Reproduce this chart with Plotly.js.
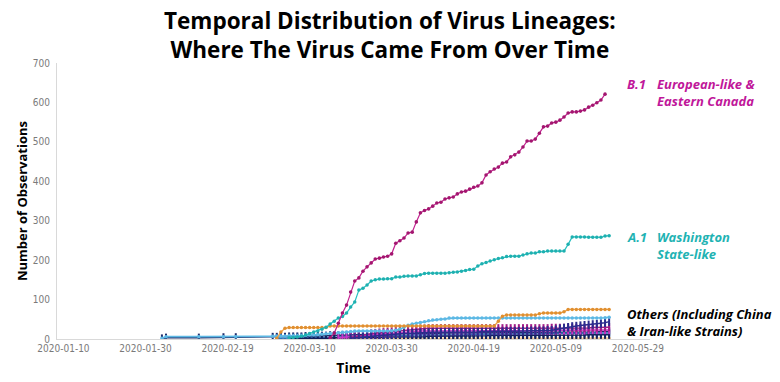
<!DOCTYPE html>
<html>
<head>
<meta charset="utf-8">
<script src="https://cdn.plot.ly/plotly-3.0.1.min.js"></script>
<style>html,body{margin:0;padding:0;background:#fff;}#chart{width:780px;height:382px;}</style>
</head>
<body>
<div id="chart"></div>
<script>
// ---------- DATA ----------
// Each daily series: first date + one value per day
const b1Start = '2020-03-15';
const b1Values = [3,15,40,66,86,119,147,155,172,183,193,203,205,208,210,216,243,249,256,269,271,297,320,326,330,337,345,347,355,358,360,368,373,375,380,385,388,396,416,424,431,436,446,449,462,467,474,487,502,502,507,522,538,540,548,550,555,563,573,576,576,578,581,588,593,599,606,621];

const a1Start = '2020-03-05';
const a1Values = [3,4,5,7,10,14,18,20,25,30,38,45,53,57,66,81,94,124,129,137,147,150,152,152,153,153,157,
  157,159,160,160,160,163,166,167,167,167,167,167,168,169,170,172,174,176,177,185,191,194,198,201,204,206,209,210,210,210,
  213,216,218,218,221,221,223,223,223,223,223,240,259,259,259,259,258,258,258,258,261,262];

const orangeStart = '2020-03-02';
const orangeValues = [2,18,27, 29,29,29,29,29,29,29,29,29,29,
  33,33,33,33,33,33,33,33,33,33,33,33,33,33,33,33,33,33,33,33,33,33,33,33,33,33,33,33,33,33,33,33,33,33,33,33,33,33,33,33,33,
  45,58,61,61,61,61,61,61,61,61,64,66,66,66,66,66,69,75,75,75,75,75,75,75,75,75,75,75];

const lightBlueEarlyDates = ['2020-02-03','2020-02-04','2020-02-12','2020-02-18','2020-02-21','2020-03-01'];
const lightBlueEarlyValues = [2,6,6,6,6,7];
const lightBlueStart = '2020-03-02';
const lightBlueValues = [7,7,7,8,8,8,9,9,10,10,11,12,13,14,15,16,17,18,19,20,20,20,20,20,20,20,20,20,21,22,
  25,30,35,38,40,42,44,46,48,49,50,51,53,53,53,53,53,53,53,53,53,53,53,53,53,53,53,53,53,53,
  53,53,53,53,53,53,53,53,53,53,53,53,53,53,53,53,53,53,53,53,54,55];

const navyEarlyDates = ['2020-02-03','2020-02-04','2020-02-12','2020-02-18','2020-02-21','2020-03-01'];
const navyEarlyValues = [1,3,3,4,4,5];
const navyStart = '2020-03-02';
const navyValues = [5,5,5,6,6,6,6,7,7,7,8,8,8,9,9,9,10,10,10,11,11,11,11,12,12,12,12,13,13,13,
  13,13,13,14,14,14,14,14,14,14,15,15,15,15,15,15,15,15,15,15,15,16,16,16,16,16,16,16,16,16,
  16,16,16,17,17,17,17,17,17,17,17,18,18,18,18,18,18,18,18,19,19,19];

const blueStart = '2020-03-02';
const blueValues = [2,2,2,3,3,3,3,3,4,4,4,4,5,5,5,5,6,6,6,7,7,7,7,8,8,8,8,9,9,9,
  9,9,9,10,10,10,10,10,10,10,11,11,11,11,11,11,11,12,12,12,12,12,12,12,12,12,13,13,13,13,
  13,13,13,13,13,14,14,14,14,14,14,14,14,14,14,15,15,15,15,15,15,15];

const darkNavyStart = '2020-03-05';
const darkNavyValues = [1,1,1,1,1,2,2,2,2,2,2,3,3,3,3,3,3,4,4,4,4,4,4,5,5,5,5,
  5,5,6,6,6,6,6,7,7,7,7,7,7,7,8,8,8,8,8,8,8,8,9,9,9,9,9,9,9,9,
  9,9,9,9,9,10,10,10,10,10,10,10,10,10,10,10,11,11,11,11,11,11];

const pinkStart = '2020-03-17';
const pinkValues = [3,4,5,6,7,8,9,10,11,12,12,13,14,14,15,
  16,17,18,19,19,20,20,20,20,20,20,20,20,20,20,21,21,21,21,21,21,21,21,21,21,21,21,21,21,21,
  21,21,21,21,21,21,21,21,22,22,22,22,22,22,22,22,23,23,23,23,23,23];

const plumStart = '2020-03-20';
const plumValues = [4,6,8,10,12,14,15,16,17,18,19,20,
  21,22,23,24,25,26,26,27,27,27,27,27,27,27,27,27,27,27,27,27,27,27,27,27,27,27,27,27,27,27,
  27,27,27,27,27,27,27,28,28,28,28,28,28,28,28,28,28,29,29,29,29,30];

const indigoStart = '2020-03-20';
const indigoValues = [2,3,4,5,6,7,8,9,10,11,12,13,
  13,14,14,15,15,16,16,17,17,17,17,17,18,18,18,18,18,18,18,18,19,19,19,19,19,19,20,20,20,20,
  20,20,21,21,21,21,22,22,24,26,28,30,32,33,34,35,36,37,38,39,41,44];

const paleStart = '2020-03-10';
const paleValues = [1,1,1,1,1,1,1,1,1,1,1,1,1,1,1,1,1,1,1,1,1,1,
  1,1,1,1,1,1,1,1,1,1,1,1,1,1,1,2,2,2,2,2,2,2,2,2,2,2,2,2,2,2,
  2,2,2,2,2,2,2,2,2,2,2,2,2,2,2,2,2,2,2,2,2,2];

const titleLines = ['Temporal Distribution of Virus Lineages:', 'Where The Virus Came From Over Time'];
const xTickLabels = ['2020-01-10','2020-01-30','2020-02-19','2020-03-10','2020-03-30','2020-04-19','2020-05-09','2020-05-29'];
const yTickValues = [0,100,200,300,400,500,600,700];

// ---------- helpers ----------
function dailyDates(start, n) {
  const out = [];
  const d0 = new Date(start + 'T00:00:00Z');
  for (let i = 0; i < n; i++) {
    const d = new Date(d0.getTime() + i * 86400000);
    out.push(d.toISOString().slice(0, 10));
  }
  return out;
}
function series(earlyDates, earlyValues, start, values) {
  return {
    x: earlyDates.concat(dailyDates(start, values.length)),
    y: earlyValues.concat(values)
  };
}

function dotTrace(s, lineColor, markerColor, size, width) {
  return {
    type: 'scatter', mode: 'lines+markers', x: s.x, y: s.y,
    line: {color: lineColor, width: width},
    marker: {symbol: 'circle', size: size, color: markerColor},
    hoverinfo: 'x+y', showlegend: false
  };
}
function barTrace(s, color) {
  return {
    type: 'scatter', mode: 'lines+markers', x: s.x, y: s.y,
    line: {color: color, width: 1.5},
    marker: {symbol: 'line-ns-open', size: 6, color: color, line: {color: color, width: 2}},
    hoverinfo: 'x+y', showlegend: false
  };
}

const traces = [
  dotTrace(series([], [], paleStart, paleValues), '#f6c48a', '#f6c48a', 3.5, 1.2),
  barTrace(series(navyEarlyDates, navyEarlyValues, navyStart, navyValues), '#1f2d6b'),
  barTrace(series([], [], blueStart, blueValues), '#2f6fb6'),
  barTrace(series([], [], darkNavyStart, darkNavyValues), '#14205c'),
  barTrace(series([], [], pinkStart, pinkValues), '#c838c8'),
  barTrace(series([], [], plumStart, plumValues), '#a01c86'),
  barTrace(series([], [], indigoStart, indigoValues), '#2c2c8e'),
  dotTrace(series(lightBlueEarlyDates, lightBlueEarlyValues, lightBlueStart, lightBlueValues), '#5cb8e4', '#5cb8e4', 3.5, 1.6),
  dotTrace(series([], [], orangeStart, orangeValues), '#eea044', '#e08f30', 3.5, 1.3),
  dotTrace(series([], [], a1Start, a1Values), '#26c0c0', '#1eb0b0', 3.5, 1.2),
  dotTrace(series([], [], b1Start, b1Values), '#c2208f', '#a3166f', 3.6, 1.2)
];

// ---------- layout ----------
const txtFont = '"Open Sans", "Noto Sans", sans-serif';
const tickFont = '"Liberation Sans Narrow", "DejaVu Sans Condensed", "Liberation Sans", sans-serif';
function note(text, x, y, color, size, xanchor, yanchor, align) {
  return {xref: 'paper', yref: 'paper', x: x, y: y, xanchor: xanchor, yanchor: yanchor,
          showarrow: false, align: align || 'left', text: text,
          font: {family: txtFont, size: size, color: color}};
}
const layout = {
  width: 780, height: 382,
  margin: {l: 57, r: 130, t: 63, b: 43, pad: 0},
  paper_bgcolor: '#ffffff', plot_bgcolor: '#ffffff',
  showlegend: false,
  xaxis: {
    type: 'date',
    range: ['2020-01-08 10:20', '2020-05-31 23:00'],
    tickvals: xTickLabels, ticktext: xTickLabels,
    showgrid: false, zeroline: false,
    showline: true, linecolor: '#d9d9d9', linewidth: 1,
    ticks: '', tickfont: {family: tickFont, size: 10, color: '#7a7a7a'},
    automargin: false,
    title: {text: '<b>Time</b>', font: {family: txtFont, size: 14, color: '#000000'}, standoff: 10}
  },
  yaxis: {
    range: [0, 700],
    tickvals: yTickValues,
    showgrid: false, zeroline: false,
    showline: true, linecolor: '#d9d9d9', linewidth: 1,
    ticks: '', tickfont: {family: tickFont, size: 10, color: '#7a7a7a'},
    ticklabelstandoff: 4,
    automargin: false,
    title: {text: '<b>Number of Observations</b>', font: {family: txtFont, size: 13, color: '#000000'}, standoff: 2}
  },
  annotations: [
    note('<b>' + titleLines[0] + '<br>' + titleLines[1] + '</b>', 0.562, 1.101, '#000000', 22.5, 'center', 'middle', 'center'),
    note('<b><i>B.1</i></b>', 0.958, 0.965, '#c0179a', 13, 'left', 'top'),
    note('<b><i>European-like &amp;<br>Eastern Canada</i></b>', 1.008, 0.965, '#c0179a', 13, 'left', 'top'),
    note('<b><i>A.1</i></b>', 0.958, 0.41, '#1fb3b3', 13, 'left', 'top'),
    note('<b><i>Washington<br>State-like</i></b>', 1.008, 0.41, '#1fb3b3', 13, 'left', 'top'),
    note('<b><i>Others (Including China<br>&amp; Iran-like Strains)</i></b>', 0.958, 0.13, '#000000', 13, 'left', 'top')
  ]
};

Plotly.newPlot('chart', traces, layout, {displayModeBar: false, staticPlot: true});
</script>
</body>
</html>
